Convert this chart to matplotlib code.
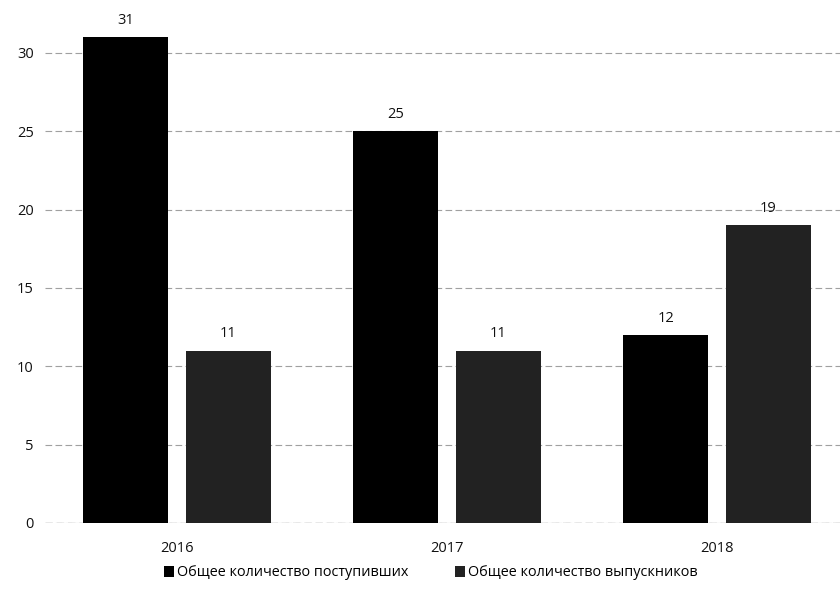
import matplotlib
matplotlib.use("Agg")
import matplotlib.pyplot as plt
import numpy as np

years = ["2016", "2017", "2018"]
series_names = ["Общее количество поступивших", "Общее количество выпускников"]
admitted = [31, 25, 12]
graduates = [11, 11, 19]
yticks = [0, 5, 10, 15, 20, 25, 30]

plt.rcParams['font.family'] = ['Open Sans', 'DejaVu Sans']

fig = plt.figure(figsize=(8.4, 5.91), dpi=100)
H = 591.0
ax = fig.add_axes([45/840, 1-523/H, 1-45/840, (523-6)/H])

x = np.arange(len(years))
w = 0.315
off = 0.19
colors = ['#000000', '#222222']
b1 = ax.bar(x - off, admitted, width=w, color=colors[0], label=series_names[0], zorder=3)
b2 = ax.bar(x + off, graduates, width=w, color=colors[1], label=series_names[1], zorder=3)

for bars, vals in ((b1, admitted), (b2, graduates)):
    for r, v in zip(bars, vals):
        ax.text(r.get_x() + r.get_width()/2, v + 0.6, str(v), ha='center', va='bottom',
                fontsize=10.5, color='#111111')

ax.set_xlim(-0.489, 2.456)
ax.set_ylim(0, 33.0)
ax.set_yticks(yticks)
ax.set_xticks(x)
ax.set_xticklabels(years)
ax.tick_params(axis='both', length=0, labelsize=10.5, colors='#111111')
ax.tick_params(axis='x', pad=13)
ax.tick_params(axis='y', pad=8)
ax.grid(axis='y', color='#a0a0a0', linestyle=(0, (6, 3)), linewidth=0.8, zorder=0)
for s in ax.spines.values():
    s.set_visible(False)
ax.axhline(0, color='#777777', linewidth=0.9, linestyle=(0, (6, 3)), zorder=2)

fig.legend(handles=[b1, b2], labels=series_names, loc='center', bbox_to_anchor=(0.513, 1-573/H),
           ncol=2, frameon=False, fontsize=10.4, handlelength=0.7, handleheight=0.7,
           handletextpad=0.2, columnspacing=3.2)

fig.savefig('out.png', dpi=100)
